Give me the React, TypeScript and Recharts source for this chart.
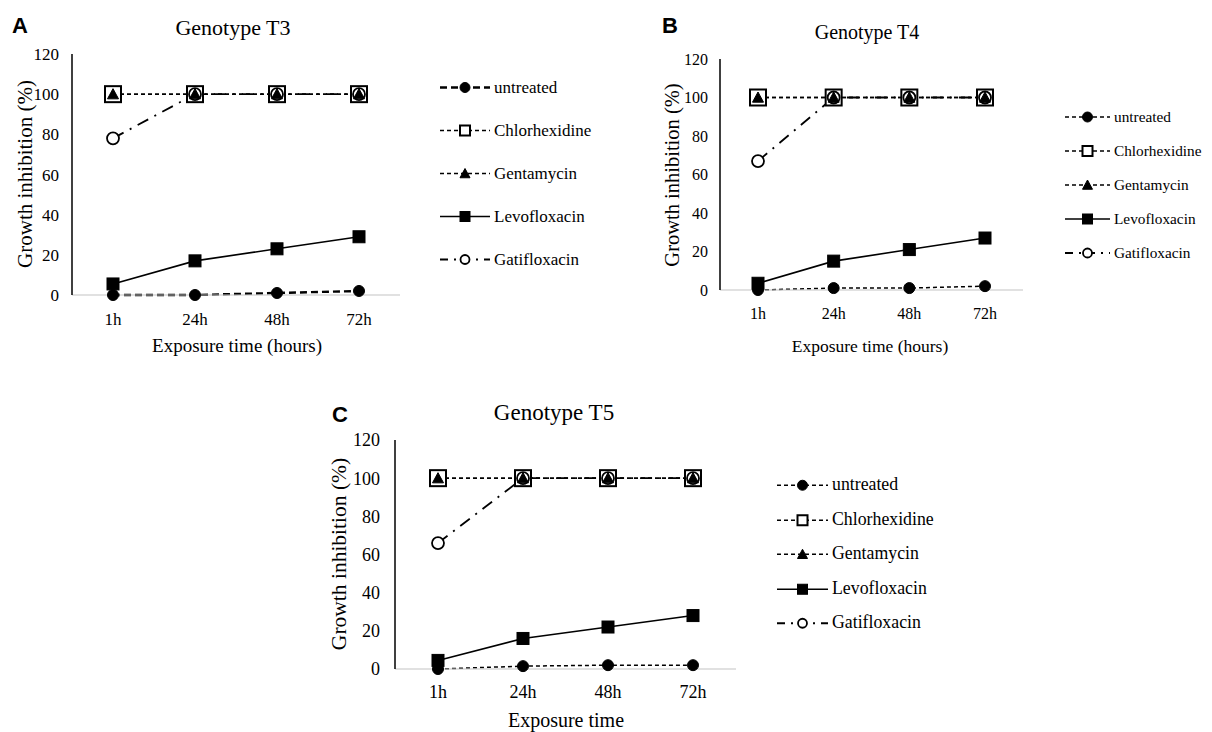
import React from 'react';
import { LineChart, Line, XAxis, YAxis, Legend } from 'recharts';

const SERIF = "'Liberation Serif', 'Times New Roman', serif";
const SANS = "'Liberation Sans', Arial, sans-serif";

const hours = ['1h', '24h', '48h', '72h'];
const yTicks = [0, 20, 40, 60, 80, 100, 120];

// Genotype T3
const t3Untreated = [0, 0, 1, 2];
const t3Chlorhexidine = [100, 100, 100, 100];
const t3Gentamycin = [100, 100, 100, 100];
const t3Levofloxacin = [5.5, 17, 23, 29];
const t3Gatifloxacin = [78, 100, 100, 100];

// Genotype T4
const t4Untreated = [0, 1, 1, 2];
const t4Chlorhexidine = [100, 100, 100, 100];
const t4Gentamycin = [100, 100, 100, 100];
const t4Levofloxacin = [3.5, 15, 21, 27];
const t4Gatifloxacin = [67, 100, 100, 100];

// Genotype T5
const t5Untreated = [0, 1.5, 2, 2];
const t5Chlorhexidine = [100, 100, 100, 100];
const t5Gentamycin = [100, 100, 100, 100];
const t5Levofloxacin = [4.5, 16, 22, 28];
const t5Gatifloxacin = [66, 100, 100, 100];

const makeRows = (u: number[], c: number[], g: number[], l: number[], ga: number[]) =>
  hours.map((time, i) => ({
    time,
    untreated: u[i],
    chlorhexidine: c[i],
    gentamycin: g[i],
    levofloxacin: l[i],
    gatifloxacin: ga[i],
  }));

type Shape = 'circle' | 'square' | 'triangle';

interface SeriesStyle {
  key: string;
  name: string;
  shape: Shape;
  filled: boolean;
  size: number;
  legendSize: number;
  dash?: string;
  width: number;
}

const seriesStyles = (heavyUntreated: boolean): SeriesStyle[] => [
  { key: 'untreated', name: 'untreated', shape: 'circle', filled: true, size: 11, legendSize: 10,
    dash: heavyUntreated ? '7 4' : '4 3', width: heavyUntreated ? 2.4 : 1.5 },
  { key: 'chlorhexidine', name: 'Chlorhexidine', shape: 'square', filled: false, size: 16, legendSize: 10, dash: '4 3', width: 1.5 },
  { key: 'gentamycin', name: 'Gentamycin', shape: 'triangle', filled: true, size: 11, legendSize: 10, dash: '4 3', width: 1.5 },
  { key: 'levofloxacin', name: 'Levofloxacin', shape: 'square', filled: true, size: 12, legendSize: 10, width: 1.6 },
  { key: 'gatifloxacin', name: 'Gatifloxacin', shape: 'circle', filled: false, size: 12, legendSize: 9, dash: '12 7 2 7', width: 1.8 },
];

// drawing order so the overlapping 100% markers stack like the original
const drawOrder = ['untreated', 'chlorhexidine', 'gatifloxacin', 'gentamycin', 'levofloxacin'];

const Marker = ({ cx, cy, shape, filled, size }: any) => {
  if (cx == null || cy == null) return null;
  const h = size / 2;
  const fill = filled ? '#000' : '#fff';
  if (shape === 'square') {
    return <rect x={cx - h} y={cy - h} width={size} height={size} fill={fill} stroke="#000" strokeWidth={filled ? 1 : 2} />;
  }
  if (shape === 'triangle') {
    const pts = `${cx},${cy - h} ${cx + h},${cy + h * 0.85} ${cx - h},${cy + h * 0.85}`;
    return <polygon points={pts} fill="#000" stroke="#000" strokeWidth={1} />;
  }
  return <circle cx={cx} cy={cy} r={h} fill={fill} stroke="#000" strokeWidth={filled ? 1 : 1.8} />;
};

const panels = [
  {
    id: 'A', title: 'Genotype T3', xTitle: 'Exposure time (hours)',
    rows: makeRows(t3Untreated, t3Chlorhexidine, t3Gentamycin, t3Levofloxacin, t3Gatifloxacin),
    left: 0, top: 0, width: 620, height: 365,
    margin: { top: 54, right: 220, bottom: 30, left: 12 }, pad: 41,
    tickFont: 17, tickMarginY: 7, tickMarginX: 12, heavy: true,
    legend: { left: 440, top: 66, row: 43, symW: 50, font: 17 },
    letter: { x: 12, y: 33 }, titlePos: { x: 233, y: 35, size: 22 },
    xTitlePos: { x: 237, y: 352, size: 19 }, yTitlePos: { x: 32, y: 174, size: 21 },
  },
  {
    id: 'B', title: 'Genotype T4', xTitle: 'Exposure time (hours)',
    rows: makeRows(t4Untreated, t4Chlorhexidine, t4Gentamycin, t4Levofloxacin, t4Gatifloxacin),
    left: 620, top: 0, width: 592, height: 365,
    margin: { top: 59, right: 189, bottom: 35, left: 40 }, pad: 38,
    tickFont: 16, tickMarginY: 6, tickMarginX: 12, heavy: false,
    legend: { left: 445, top: 100, row: 34, symW: 45, font: 15.3 },
    letter: { x: 662, y: 33 }, titlePos: { x: 867, y: 39, size: 20 },
    xTitlePos: { x: 870, y: 352, size: 17.5 }, yTitlePos: { x: 679, y: 175, size: 20.5 },
  },
  {
    id: 'C', title: 'Genotype T5', xTitle: 'Exposure time',
    rows: makeRows(t5Untreated, t5Chlorhexidine, t5Gentamycin, t5Levofloxacin, t5Gatifloxacin),
    left: 320, top: 370, width: 600, height: 362,
    margin: { top: 70, right: 184, bottom: 23, left: 15 }, pad: 43,
    tickFont: 18, tickMarginY: 9, tickMarginX: 10, heavy: false,
    legend: { left: 457, top: 98, row: 34.5, symW: 51, font: 17.8 },
    letter: { x: 332, y: 422 }, titlePos: { x: 554, y: 420, size: 23 },
    xTitlePos: { x: 566, y: 727, size: 20 }, yTitlePos: { x: 346, y: 554, size: 21.5 },
  },
];

const LegendBlock = ({ cfg, styles }: any) => (
  <div style={{ fontFamily: SERIF, fontSize: cfg.font, color: '#000' }}>
    {styles.map((s: SeriesStyle) => (
      <div key={s.key} style={{ display: 'flex', alignItems: 'center', height: cfg.row }}>
        <svg width={cfg.symW} height={cfg.row} style={{ display: 'block' }}>
          <line x1={0} x2={cfg.symW} y1={cfg.row / 2} y2={cfg.row / 2} stroke="#000"
            strokeWidth={s.width} strokeDasharray={s.dash ? (s.key === 'gatifloxacin' ? '8 6 2 6' : s.dash) : undefined} />
          <Marker cx={cfg.symW / 2} cy={cfg.row / 2} shape={s.shape} filled={s.filled} size={s.legendSize} />
        </svg>
        <span style={{ marginLeft: 4, lineHeight: 1, whiteSpace: 'nowrap' }}>{s.name}</span>
      </div>
    ))}
  </div>
);

const Panel = ({ p }: any) => {
  const styles = seriesStyles(p.heavy);
  const tick = { fill: '#000', fontSize: p.tickFont, fontFamily: SERIF };
  return (
    <div style={{ position: 'absolute', left: p.left, top: p.top }}>
      <LineChart width={p.width} height={p.height} data={p.rows} margin={p.margin}>
        <XAxis dataKey="time" padding={{ left: p.pad, right: p.pad }} tickLine={false}
          axisLine={{ stroke: '#c4c4c4', strokeWidth: 1.2 }} tick={tick} tickMargin={p.tickMarginX}
          height={40} interval={0} />
        <XAxis xAxisId="top" dataKey="time" orientation="top" padding={{ left: p.pad, right: p.pad }}
          tick={false} tickLine={false} axisLine={{ stroke: '#000', strokeWidth: 1.5 }} height={0} />
        <YAxis domain={[0, 120]} ticks={yTicks} tickLine={false} axisLine={{ stroke: '#000', strokeWidth: 1.5 }}
          tick={tick} tickMargin={p.tickMarginY} width={60} interval={0} />
        <YAxis yAxisId="right" orientation="right" domain={[0, 120]} tick={false} tickLine={false}
          axisLine={{ stroke: '#000', strokeWidth: 1.5 }} width={0} />
        <Legend layout="vertical" align="center" verticalAlign="middle"
          wrapperStyle={{ left: p.legend.left, top: p.legend.top, width: 170 }}
          content={() => <LegendBlock cfg={p.legend} styles={styles} />} />
        {drawOrder.map((k) => {
          const s = styles.find((x) => x.key === k)!;
          return (
            <Line key={k} dataKey={k} name={s.name} stroke="#000" strokeWidth={s.width}
              strokeDasharray={s.dash} isAnimationActive={false} activeDot={false}
              dot={(d: any) => (
                <Marker key={`${k}-${d.index}`} cx={d.cx} cy={d.cy} shape={s.shape} filled={s.filled} size={s.size} />
              )} />
          );
        })}
      </LineChart>
    </div>
  );
};

export default function App() {
  return (
    <div style={{ position: 'absolute', left: 0, top: 0, width: 1212, height: 732, background: '#fff' }}>
      {panels.map((p) => <Panel key={p.id} p={p} />)}
      <svg width={1212} height={732} style={{ position: 'absolute', left: 0, top: 0, pointerEvents: 'none' }}>
        {panels.map((p) => (
          <g key={p.id} fill="#000">
            <text x={p.letter.x} y={p.letter.y} fontFamily={SANS} fontWeight="bold" fontSize={22}>{p.id}</text>
            <text x={p.titlePos.x} y={p.titlePos.y} fontFamily={SERIF} fontSize={p.titlePos.size} textAnchor="middle">{p.title}</text>
            <text x={p.xTitlePos.x} y={p.xTitlePos.y} fontFamily={SERIF} fontSize={p.xTitlePos.size} textAnchor="middle">{p.xTitle}</text>
            <text transform={`translate(${p.yTitlePos.x},${p.yTitlePos.y}) rotate(-90)`} fontFamily={SERIF}
              fontSize={p.yTitlePos.size} textAnchor="middle">Growth inhibition (%)</text>
          </g>
        ))}
      </svg>
    </div>
  );
}
